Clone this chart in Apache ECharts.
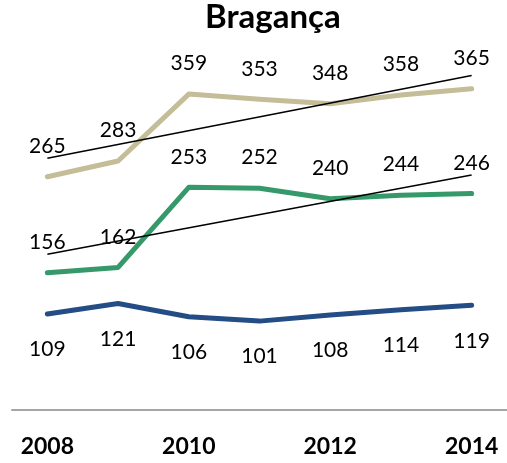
<!DOCTYPE html>
<html>
<head>
<meta charset="utf-8">
<script src="https://cdn.jsdelivr.net/npm/echarts@6/dist/echarts.min.js"></script>
<style>
  html, body { margin: 0; padding: 0; background: #fff; }
  #chart { width: 507px; height: 463px; }
</style>
</head>
<body>
<div id="chart"></div>
<script>
const years = ['2008', '2009', '2010', '2011', '2012', '2013', '2014'];
const beigeValues = [265, 283, 359, 353, 348, 358, 365];
const greenValues = [156, 162, 253, 252, 240, 244, 246];
const navyValues = [109, 121, 106, 101, 108, 114, 119];
// trend lines, start and end
const beigeTrend = [286, null, null, null, null, null, 380];
const greenTrend = [177, null, null, null, null, null, 267];

const FONT = 'Lato, sans-serif';

function mainLine(name, data, color, labelPos, dist) {
  return {
    name,
    type: 'line',
    data,
    symbol: 'circle',
    symbolSize: 0.1,
    itemStyle: { color },
    lineStyle: { color, width: 5, cap: 'round', join: 'round' },
    label: {
      show: true,
      position: labelPos,
      distance: dist,
      color: '#000',
      fontFamily: FONT,
      fontSize: 21,
    },
    z: 2,
  };
}

function trendLine(data) {
  return {
    type: 'line',
    data,
    connectNulls: true,
    symbol: 'none',
    silent: true,
    lineStyle: { color: '#000', width: 1.5 },
    z: 3,
  };
}

const chart = echarts.init(document.getElementById('chart'), null, { renderer: 'canvas' });
chart.setOption({
  animation: false,
  backgroundColor: '#fff',
  title: {
    text: 'Bragança',
    left: 200,
    top: -4,
    textStyle: { fontFamily: FONT, fontWeight: 'bold', fontSize: 33, color: '#000' },
  },
  grid: { left: 12, right: -6, top: 58, bottom: 53 },
  xAxis: {
    type: 'category',
    data: years,
    boundaryGap: true,
    axisLine: { lineStyle: { color: '#a6a6a6', width: 2 } },
    axisTick: { show: false },
    axisLabel: {
      interval: 1,
      margin: 25,
      color: '#000',
      fontFamily: FONT,
      fontWeight: 'bold',
      fontSize: 23,
    },
  },
  yAxis: {
    type: 'value',
    min: 0,
    max: 400,
    show: false,
    splitLine: { show: false },
  },
  series: [
    mainLine('beige', beigeValues, '#C4BD97', 'top', 20),
    mainLine('green', greenValues, '#36996A', 'top', 20),
    mainLine('navy', navyValues, '#234D84', 'bottom', 25),
    trendLine(beigeTrend),
    trendLine(greenTrend),
  ],
});
</script>
</body>
</html>
